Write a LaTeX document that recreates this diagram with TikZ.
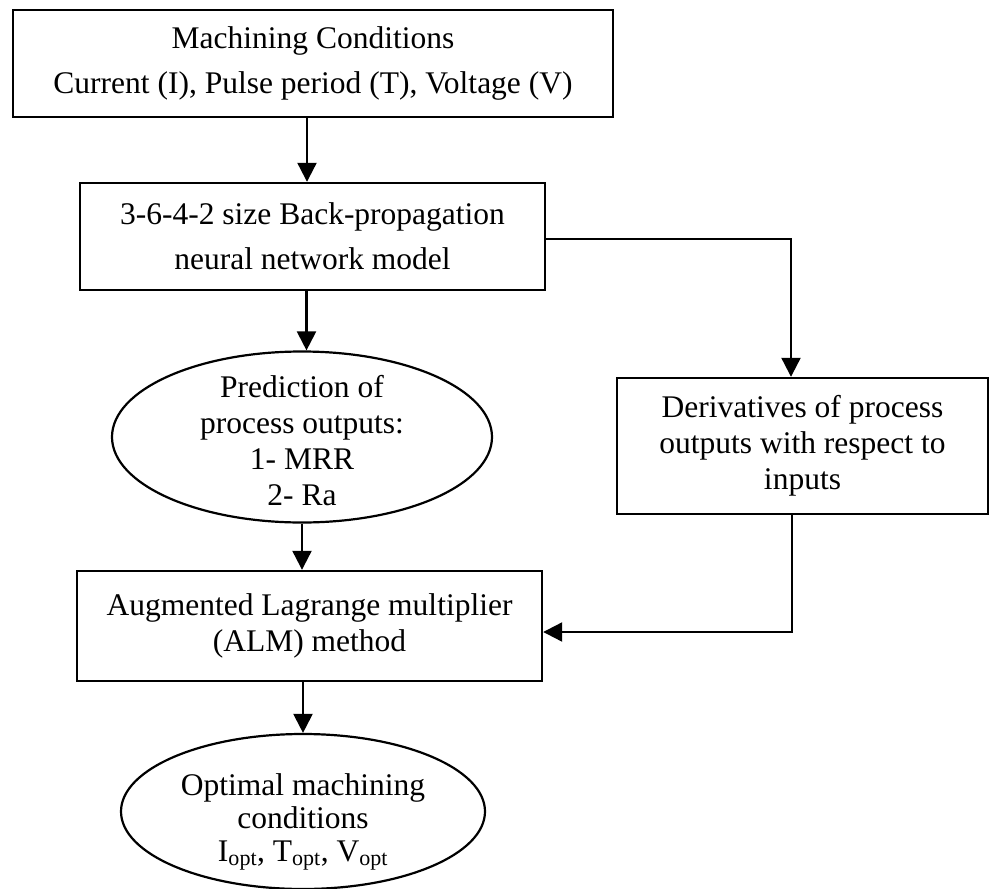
\documentclass[tikz,border=0pt]{standalone}
\usepackage{fontspec}
\setmainfont{Liberation Serif}
\usetikzlibrary{shapes.geometric,arrows.meta}
\tikzset{
  box/.style={draw=black, line width=2.4pt, rectangle, inner sep=0pt, align=center,
              font=\fontsize{31.5}{36}\selectfont},
  oval/.style={draw=black, line width=2.2pt, ellipse, inner sep=0pt},
  ovaltext/.style={inner sep=0pt, align=center, font=\fontsize{31.5}{36}\selectfont},
  arr/.style={draw=black, line width=2.2pt, -{Triangle[length=19pt,width=19pt]}}
}
\begin{document}
\begin{tikzpicture}[x=1pt,y=-1pt]
\useasboundingbox (0,0) rectangle (989,889);
\node[box, minimum width=600pt, minimum height=107pt, font=\fontsize{31.5}{45}\selectfont]
  (b1) at (313,63.5) {Machining Conditions\\Current (I), Pulse period (T), Voltage (V)};
\node[box, minimum width=465pt, minimum height=107pt, font=\fontsize{31.5}{45}\selectfont]
  (b2) at (312.5,236.5) {3-6-4-2 size Back-propagation\\neural network model};
\node[box, minimum width=371pt, minimum height=136pt]
  (b3) at (802.5,446) {Derivatives of process\\outputs with respect to\\inputs};
\node[box, minimum width=465pt, minimum height=110pt]
  (b4) at (309.5,626) {Augmented Lagrange multiplier\\(ALM) method};
\node[oval, minimum width=380pt, minimum height=171pt] (e1) at (302,437) {};
\node[ovaltext] (t1) at (302,441) {Prediction of\\process outputs:\\1- MRR\\2- Ra};
\node[oval, minimum width=364pt, minimum height=155pt] (e2) at (303,811.5) {};
\node[ovaltext, font=\fontsize{31.5}{33}\selectfont] (t2) at (303,822)
  {Optimal machining\\conditions\\I\textsubscript{opt}, T\textsubscript{opt}, V\textsubscript{opt}};
\draw[arr] ([xshift=-6pt]b1.south) -- ([xshift=-6pt]b1.south |- b2.north);
\draw[arr] ([yshift=-2.5pt]b2.east) -| ([xshift=-11.5pt]b3.north);
\draw[arr] ([xshift=-6pt]b2.south) -- ([xshift=-6pt]b2.south |- e1.north);
\draw[arr] (e1.south) -- (e1.south |- b4.north);
\draw[arr] ([xshift=-10.5pt]b3.south) |- ([yshift=-6pt]b4.east);
\draw[arr] (b4.south -| e2.north) -- (e2.north);
\end{tikzpicture}
\end{document}
